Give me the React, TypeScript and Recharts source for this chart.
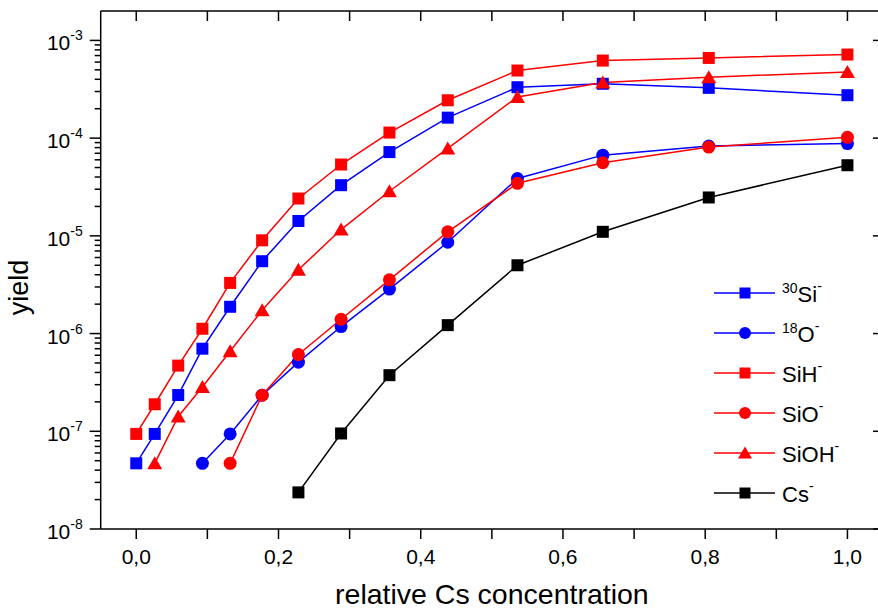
import React from 'react';
import { LineChart, Line, XAxis, YAxis, Legend, Label } from 'recharts';

// ---- data ----
const xValues = [0, 0.026, 0.059, 0.093, 0.132, 0.177, 0.228, 0.288, 0.356, 0.438, 0.536, 0.656, 0.805, 1.0];
const si30 = [4.7e-8, 9.4e-8, 2.35e-7, 7.0e-7, 1.88e-6, 5.5e-6, 1.42e-5, 3.3e-5, 7.2e-5, 1.62e-4, 3.32e-4, 3.6e-4, 3.27e-4, 2.75e-4];
const o18 = [null, null, null, 4.7e-8, 9.4e-8, 2.34e-7, 5.1e-7, 1.18e-6, 2.85e-6, 8.6e-6, 3.86e-5, 6.7e-5, 8.3e-5, 8.8e-5];
const sih = [9.4e-8, 1.89e-7, 4.7e-7, 1.12e-6, 3.3e-6, 9.0e-6, 2.41e-5, 5.37e-5, 1.14e-4, 2.44e-4, 4.92e-4, 6.22e-4, 6.62e-4, 7.17e-4];
const sio = [null, null, null, null, 4.7e-8, 2.34e-7, 6.1e-7, 1.4e-6, 3.55e-6, 1.1e-5, 3.45e-5, 5.6e-5, 8.1e-5, 1.02e-4];
const sioh = [null, 4.7e-8, 1.42e-7, 2.84e-7, 6.6e-7, 1.73e-6, 4.5e-6, 1.16e-5, 2.86e-5, 7.85e-5, 2.64e-4, 3.71e-4, 4.2e-4, 4.76e-4];
const cs = [null, null, null, null, null, null, 2.37e-8, 9.5e-8, 3.75e-7, 1.22e-6, 5.0e-6, 1.1e-5, 2.47e-5, 5.28e-5];

const xTicks = [0, 0.1, 0.2, 0.3, 0.4, 0.5, 0.6, 0.7, 0.8, 0.9, 1.0];
const xMajorTicks = [0, 0.2, 0.4, 0.6, 0.8, 1.0];
const yMajorExponents = [-8, -7, -6, -5, -4, -3];
const yMinorMultipliers = [2, 3, 4, 5, 6, 7, 8, 9];

const xTitle = 'relative Cs concentration';
const yTitle = 'yield';

const data = xValues.map((x, i) => ({
  x,
  si30: si30[i],
  o18: o18[i],
  sih: sih[i],
  sio: sio[i],
  sioh: sioh[i],
  cs: cs[i],
}));

const yTicks: number[] = [];
yMajorExponents.forEach((e) => {
  yTicks.push(Number(`1e${e}`));
  if (e < -3) yMinorMultipliers.forEach((m) => yTicks.push(Number(`${m}e${e}`)));
});

const FONT = '"Liberation Sans", Arial, sans-serif';
const BLUE = '#0000ff';
const RED = '#ff0000';
const BLACK = '#000000';

type Shape = 'square' | 'circle' | 'triangle';
const series: { key: string; color: string; shape: Shape; pre?: string; main: string; post: string }[] = [
  { key: 'si30', color: BLUE, shape: 'square', pre: '30', main: 'Si', post: '-' },
  { key: 'o18', color: BLUE, shape: 'circle', pre: '18', main: 'O', post: '-' },
  { key: 'sih', color: RED, shape: 'square', main: 'SiH', post: '-' },
  { key: 'sio', color: RED, shape: 'circle', main: 'SiO', post: '-' },
  { key: 'sioh', color: RED, shape: 'triangle', main: 'SiOH', post: '-' },
  { key: 'cs', color: BLACK, shape: 'square', main: 'Cs', post: '-' },
];

function marker(shape: Shape, cx: number, cy: number, color: string, s: number, key?: string) {
  if (shape === 'square') {
    return <rect key={key} x={cx - s / 2} y={cy - s / 2} width={s} height={s} fill={color} />;
  }
  if (shape === 'circle') {
    return <circle key={key} cx={cx} cy={cy} r={s / 2 + 0.5} fill={color} />;
  }
  const w = s + 3;
  const h = s + 1;
  return (
    <polygon
      key={key}
      points={`${cx},${cy - h / 2 - 0.5} ${cx - w / 2},${cy + h / 2 - 0.5} ${cx + w / 2},${cy + h / 2 - 0.5}`}
      fill={color}
    />
  );
}

const makeDot = (shape: Shape, color: string) => (props: any) => {
  const { cx, cy, value, index } = props;
  if (cx == null || cy == null || value == null || Number.isNaN(cy)) return <g key={`d-${index}`} />;
  return marker(shape, cx, cy, color, 12, `d-${index}`);
};

const isMajorX = (v: number) => xMajorTicks.some((m) => Math.abs(m - v) < 1e-9);
const isMajorY = (v: number) => {
  const l = Math.log10(v);
  return Math.abs(l - Math.round(l)) < 1e-6;
};

const BottomTick = (props: any) => {
  const { x, y, payload } = props;
  const v = payload.value;
  return (
    <g>
      <line x1={x} x2={x} y1={y} y2={y + 10} stroke="#000" strokeWidth={1.5} />
      {isMajorX(v) && (
        <text x={x} y={y + 35} textAnchor="middle" fontSize={21} fontFamily={FONT} fill="#000">
          {v.toFixed(1).replace('.', ',')}
        </text>
      )}
    </g>
  );
};

const TopTick = (props: any) => {
  const { x, y } = props;
  return <line x1={x} x2={x} y1={y} y2={y + 10} stroke="#000" strokeWidth={1.5} />;
};

const LeftTick = (props: any) => {
  const { x, y, payload } = props;
  const v = payload.value;
  const major = isMajorY(v);
  const e = Math.round(Math.log10(v));
  return (
    <g>
      <line x1={x - (major ? 11 : 6)} x2={x} y1={y} y2={y} stroke="#000" strokeWidth={1.5} />
      {major && (
        <text x={x - 18} y={y + 10} textAnchor="end" fontSize={21} fontFamily={FONT} fill="#000">
          10
          <tspan fontSize={14} dy={-10}>{String(e)}</tspan>
        </text>
      )}
    </g>
  );
};

const RightTick = (props: any) => {
  const { x, y, payload } = props;
  const major = isMajorY(payload.value);
  return <line x1={x - (major ? 10 : 5)} x2={x} y1={y} y2={y} stroke="#000" strokeWidth={1.5} />;
};

const LegendContent = (props: any) => {
  const payload = (props.payload || []).slice();
  const order = (k: any) => series.findIndex((s) => s.key === k);
  payload.sort((a: any, b: any) => order(a.dataKey) - order(b.dataKey));
  const rowY = (i: number) => 23 + i * 40;
  return (
    <svg width={178} height={250} style={{ overflow: 'visible' }}>
      {payload.map((entry: any, i: number) => {
        const cfg = series.find((s) => s.key === entry.dataKey) || series[i];
        const y = rowY(i);
        return (
          <g key={cfg.key}>
            <line x1={14} x2={75} y1={y} y2={y} stroke={cfg.color} strokeWidth={1.5} />
            {marker(cfg.shape, 45, y, cfg.color, 11)}
            <text x={82} y={y + 9} fontSize={22} fontFamily={FONT} fill="#000">
              {cfg.pre && (
                <tspan fontSize={14} dy={-9}>
                  {cfg.pre}
                </tspan>
              )}
              <tspan dy={cfg.pre ? 9 : 0}>{cfg.main}</tspan>
              <tspan fontSize={14} dy={-11}>
                {cfg.post}
              </tspan>
            </text>
          </g>
        );
      })}
    </svg>
  );
};

export default function App() {
  return (
    <div style={{ position: 'absolute', left: 0, top: 0, width: 878, height: 609, overflow: 'hidden', background: '#fff' }}>
      <LineChart
        width={900}
        height={609}
        data={data}
        margin={{ top: 10, right: 16, bottom: 79, left: 99.7 }}
      >
        <XAxis
          xAxisId="b"
          dataKey="x"
          type="number"
          domain={[-0.05, 1.05]}
          allowDataOverflow
          ticks={xTicks}
          interval={0}
          height={1}
          tickSize={0}
          tickMargin={0}
          tick={<BottomTick />}
          axisLine={{ stroke: '#000', strokeWidth: 1.5 }}
          tickLine={false}
        >
          <Label
            content={() => (
              <text x={491.9} y={604} textAnchor="middle" fontSize={28.5} fontFamily={FONT} fill="#000">
                {xTitle}
              </text>
            )}
          />
        </XAxis>
        <XAxis
          xAxisId="t"
          orientation="top"
          dataKey="x"
          type="number"
          domain={[-0.05, 1.05]}
          allowDataOverflow
          ticks={xTicks}
          interval={0}
          height={1}
          tickSize={0}
          tickMargin={0}
          tick={<TopTick />}
          axisLine={{ stroke: '#000', strokeWidth: 1.5 }}
          tickLine={false}
        />
        <YAxis
          yAxisId="l"
          scale="log"
          type="number"
          domain={[1e-8, 2e-3]}
          allowDataOverflow
          ticks={yTicks}
          interval={0}
          width={1}
          tickSize={0}
          tickMargin={0}
          tick={<LeftTick />}
          axisLine={{ stroke: '#000', strokeWidth: 1.5 }}
          tickLine={false}
        >
          <Label
            content={() => (
              <text
                x={27.5}
                y={287.5}
                transform="rotate(-90, 27.5, 287.5)"
                textAnchor="middle"
                fontSize={27}
                fontFamily={FONT}
                fill="#000"
              >
                {yTitle}
              </text>
            )}
          />
        </YAxis>
        <YAxis
          yAxisId="r"
          orientation="right"
          scale="log"
          type="number"
          domain={[1e-8, 2e-3]}
          allowDataOverflow
          ticks={yTicks}
          interval={0}
          width={1}
          tickSize={0}
          tickMargin={0}
          tick={<RightTick />}
          axisLine={{ stroke: '#000', strokeWidth: 1.5 }}
          tickLine={false}
        />
        <Legend
          layout="vertical"
          align="center"
          verticalAlign="middle"
          content={<LegendContent />}
          wrapperStyle={{ left: 700, top: 270, width: 178, height: 250 }}
        />
        {series.map((s) => (
          <Line
            key={s.key}
            xAxisId="b"
            yAxisId="l"
            dataKey={s.key}
            name={s.key}
            stroke={s.color}
            strokeWidth={1.5}
            dot={makeDot(s.shape, s.color)}
            activeDot={false}
            isAnimationActive={false}
            type="linear"
          />
        ))}
      </LineChart>
    </div>
  );
}
